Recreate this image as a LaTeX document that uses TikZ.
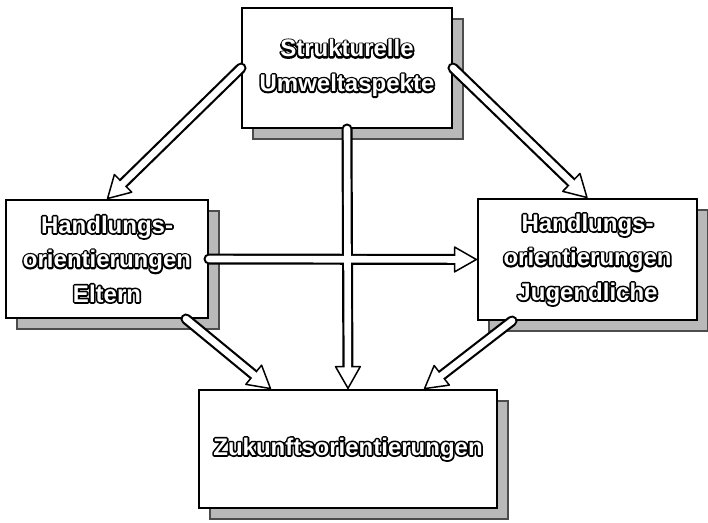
\documentclass[tikz,border=0pt]{standalone}
\usepackage{fontspec}
\setmainfont{Liberation Sans}
\usetikzlibrary{arrows.meta,calc,shadows}

% hollow letters: black outline under a white fill
\newcommand{\hl}[1]{\rlap{\special{pdf:literal direct q 1 Tr 3.4 w 1 j 0 G}#1\special{pdf:literal direct Q}}#1}

\begin{document}
\begin{tikzpicture}[x=1pt, y=-1pt, every node/.style={font=\fontsize{24}{34.5}\selectfont\bfseries, text=white},
			box/.style={draw, line width=1.9pt, fill=white, inner sep=0pt, align=center,
				drop shadow={shadow xshift=11pt, shadow yshift=-11pt, fill=gray!55, draw=black!70, opacity=1}},
			shaft/.style={line width=11pt, line cap=round, shorten >=21pt},
			core/.style={white, line width=6.6pt, line cap=round, shorten >=18pt},
			tip/.style={line width=1.5pt, -{Triangle[round, length=24pt, width=27pt, fill=white]}}]
			\useasboundingbox (0,0) rectangle (708,522);
			\node[box, minimum width=210pt, minimum height=120pt] (struk) at (347,68) {\hl{Strukturelle}\\\hl{Umweltaspekte}};
			\node[box, minimum width=202pt, minimum height=118pt] (eltern) at (107,259) {\hl{Handlungs-}\\\hl{orientierungen}\\\hl{Eltern}};
			\node[box, minimum width=219pt, minimum height=121pt] (jugend) at (587.5,259.5) {\hl{Handlungs-}\\\hl{orientierungen}\\\hl{Jugendliche}};
			\node[box, minimum width=298pt, minimum height=118pt] (zukunft) at (348,449) {\hl{Zukunftsorientierungen}};
			% ends of the two lower arrows
			\coordinate (e1) at ($(eltern.south east)+(-23,0)$);
			\coordinate (z1) at ($(zukunft.north west)+(73,0)$);
			\coordinate (j1) at ($(jugend.south west)+(35,0)$);
			\coordinate (z2) at ($(zukunft.north east)+(-74,0)$);
			\def\links{struk.west/eltern.north, struk.east/jugend.north, struk.south/zukunft.north, eltern.east/jugend.west, e1/z1, j1/z2}
			\foreach \a/\b in \links \draw[shaft] (\a) -- (\b);
			\foreach \a/\b in \links \draw[tip] ($(\b)!40pt!(\a)$) -- (\b);
			\foreach \a/\b in \links \draw[core] (\a) -- (\b);
		\end{tikzpicture}
\end{document}
